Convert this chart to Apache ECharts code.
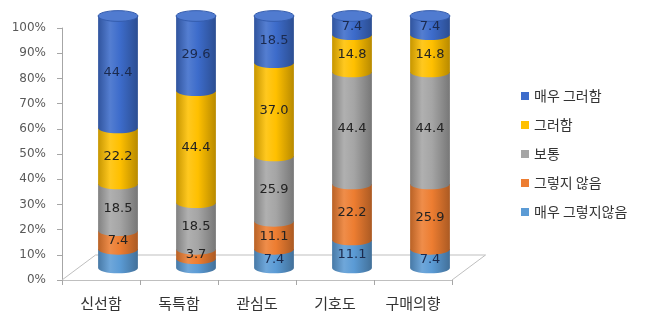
<!DOCTYPE html>
<html>
<head>
<meta charset="utf-8">
<script src="https://cdn.jsdelivr.net/npm/echarts@6/dist/echarts.min.js"></script>
<style>
  html, body { margin: 0; padding: 0; background: #ffffff; }
  #chart { width: 656px; height: 320px; }
</style>
</head>
<body>
<div id="chart"></div>
<script>
// Survey responses per attribute (percent), stacked bottom to top
const categories = ['신선함', '독특함', '관심도', '기호도', '구매의향'];
const levels = ['매우 그렇지않음', '그렇지 않음', '보통', '그러함', '매우 그러함'];
const veryNo  = [7.4, 3.7, 7.4, 11.1, 7.4];
const no      = [7.4, 3.7, 11.1, 22.2, 25.9];
const neutral = [18.5, 18.5, 25.9, 44.4, 44.4];
const yes     = [22.2, 44.4, 37.0, 14.8, 14.8];
const veryYes = [44.4, 29.6, 18.5, 7.4, 7.4];
const legendOrder = ['매우 그러함', '그러함', '보통', '그렇지 않음', '매우 그렇지않음'];
// segments drawn without a value label: [level index, category index]
const unlabeled = [[0, 0], [0, 1]];

const values = [veryNo, no, neutral, yes, veryYes];
const colors = ['#5B9BD5', '#ED7D31', '#A5A5A5', '#FFC000', '#3D6CCB'];

function mix(hex, target, t) {
  const a = parseInt(hex.slice(1), 16), b = parseInt(target.slice(1), 16);
  const ch = (v, s) => (v >> s) & 255;
  const r = [16, 8, 0].map(s => Math.round(ch(a, s) + (ch(b, s) - ch(a, s)) * t));
  return 'rgb(' + r.join(',') + ')';
}
function bodyFill(c) {
  return {
    type: 'linear', x: 0, y: 0, x2: 1, y2: 0,
    colorStops: [
      { offset: 0, color: mix(c, '#000000', 0.22) },
      { offset: 0.3, color: mix(c, '#ffffff', 0.12) },
      { offset: 0.55, color: c },
      { offset: 1, color: mix(c, '#000000', 0.28) }
    ]
  };
}
const K = 0.5523;
function bodyPath(cx, rx, ry, yt, yb) {
  return 'M' + (cx - rx) + ' ' + yt + ' L' + (cx - rx) + ' ' + yb +
    ' C' + (cx - rx) + ' ' + (yb + K * ry) + ' ' + (cx - K * rx) + ' ' + (yb + ry) + ' ' + cx + ' ' + (yb + ry) +
    ' C' + (cx + K * rx) + ' ' + (yb + ry) + ' ' + (cx + rx) + ' ' + (yb + K * ry) + ' ' + (cx + rx) + ' ' + yb +
    ' L' + (cx + rx) + ' ' + yt + ' Z';
}
function ellipsePath(cx, cy, rx, ry) {
  return 'M' + (cx - rx) + ' ' + cy +
    ' C' + (cx - rx) + ' ' + (cy - K * ry) + ' ' + (cx - K * rx) + ' ' + (cy - ry) + ' ' + cx + ' ' + (cy - ry) +
    ' C' + (cx + K * rx) + ' ' + (cy - ry) + ' ' + (cx + rx) + ' ' + (cy - K * ry) + ' ' + (cx + rx) + ' ' + cy +
    ' C' + (cx + rx) + ' ' + (cy + K * ry) + ' ' + (cx + K * rx) + ' ' + (cy + ry) + ' ' + cx + ' ' + (cy + ry) +
    ' C' + (cx - K * rx) + ' ' + (cy + ry) + ' ' + (cx - rx) + ' ' + (cy + K * ry) + ' ' + (cx - rx) + ' ' + cy + ' Z';
}

const totals = categories.map((_, ci) => values.reduce((s, arr) => s + arr[ci], 0));

function cylinderSeries(li) {
  const c = colors[li];
  const data = categories.map((_, ci) => {
    let before = 0;
    for (let k = 0; k < li; k++) before += values[k][ci];
    const lo = before / totals[ci] * 100;
    const hi = (before + values[li][ci]) / totals[ci] * 100;
    return [ci, lo, hi, values[li][ci]];
  });
  return {
    type: 'custom',
    name: levels[li],
    xAxisIndex: 1,
    yAxisIndex: 1,
    z: 3,
    itemStyle: { color: c },
    encode: { x: 0, y: [1, 2] },
    data: data,
    renderItem: function (params, api) {
      const ci = api.value(0), lo = api.value(1), hi = api.value(2), v = api.value(3);
      const pb = api.coord([ci, lo]);
      const pt = api.coord([ci, hi]);
      const bw = api.size([1, 0])[0];
      const rx = bw * 0.255, ry = rx * 0.27;
      const cx = pb[0], yb = pb[1], yt = pt[1];
      const children = [{
        type: 'path',
        z2: li * 2,
        shape: { pathData: bodyPath(cx, rx, ry, yt, yb) },
        style: { fill: bodyFill(c) }
      }];
      if (li === levels.length - 1) {
        children.push({
          type: 'path',
          z2: li * 2 + 1,
          shape: { pathData: ellipsePath(cx, yt, rx, ry) },
          style: { fill: mix(c, '#ffffff', 0.1), stroke: mix(c, '#000000', 0.15), lineWidth: 1 }
        });
      }
      const hidden = unlabeled.some(p => p[0] === li && p[1] === ci);
      if (!hidden) {
        children.push({
          type: 'text',
          z2: 100,
          style: {
            x: cx, y: (yt + yb) / 2 + 1,
            text: v.toFixed(1),
            align: 'center', verticalAlign: 'middle',
            font: '13px "DejaVu Sans"',
            fill: li >= 4 || li === 0 ? '#1b2a4e' : '#222222'
          }
        });
      }
      return { type: 'group', children: children };
    }
  };
}

// floor of the plot, drawn from the front category axis with a fixed depth
const floorSeries = {
  type: 'custom',
  xAxisIndex: 0,
  yAxisIndex: 0,
  z: 1,
  silent: true,
  data: [[0, 0]],
  renderItem: function (params, api) {
    const p = api.coord([0, 0]);
    const bw = api.size([1, 0])[0];
    const left = p[0] - bw / 2;
    const right = left + bw * categories.length;
    const y0 = p[1];
    const dx = bw * 0.43, dy = 25;
    return {
      type: 'polyline',
      shape: { points: [[left, y0], [left + dx, y0 - dy], [right + dx, y0 - dy], [right, y0]] },
      style: { stroke: '#BFBFBF', lineWidth: 1, fill: null }
    };
  }
};

const chart = echarts.init(document.getElementById('chart'), null, { renderer: 'canvas' });
chart.setOption({
  animation: false,
  backgroundColor: '#ffffff',
  grid: [
    { left: 62, top: 28, width: 390, height: 252 },
    { left: 79, top: 16, width: 390, height: 252 }
  ],
  xAxis: [
    {
      type: 'category', gridIndex: 0, data: categories,
      axisLine: { show: true, lineStyle: { color: '#BFBFBF' } },
      axisTick: { show: true, length: 5, lineStyle: { color: '#A6A6A6' } },
      axisLabel: { margin: 16, fontSize: 15, color: '#333333', fontFamily: '"Noto Sans CJK KR"' }
    },
    { type: 'category', gridIndex: 1, data: categories, show: false }
  ],
  yAxis: [
    {
      type: 'value', gridIndex: 0, min: 0, max: 100, interval: 10,
      axisLine: { show: true, lineStyle: { color: '#A6A6A6' } },
      axisTick: { show: true, length: 5, lineStyle: { color: '#A6A6A6' } },
      splitLine: { show: false },
      axisLabel: { formatter: '{value}%', margin: 16, fontSize: 12, color: '#595959', fontFamily: '"DejaVu Sans"' }
    },
    { type: 'value', gridIndex: 1, min: 0, max: 100, show: false }
  ],
  legend: {
    data: legendOrder,
    orient: 'vertical',
    left: 516,
    top: 83,
    icon: 'rect',
    itemWidth: 8,
    itemHeight: 8,
    itemGap: 13,
    textStyle: { fontSize: 14, lineHeight: 16, color: '#333333', fontFamily: '"Noto Sans CJK KR"' }
  },
  series: [floorSeries].concat(levels.map((_, li) => cylinderSeries(li)))
});
</script>
</body>
</html>
